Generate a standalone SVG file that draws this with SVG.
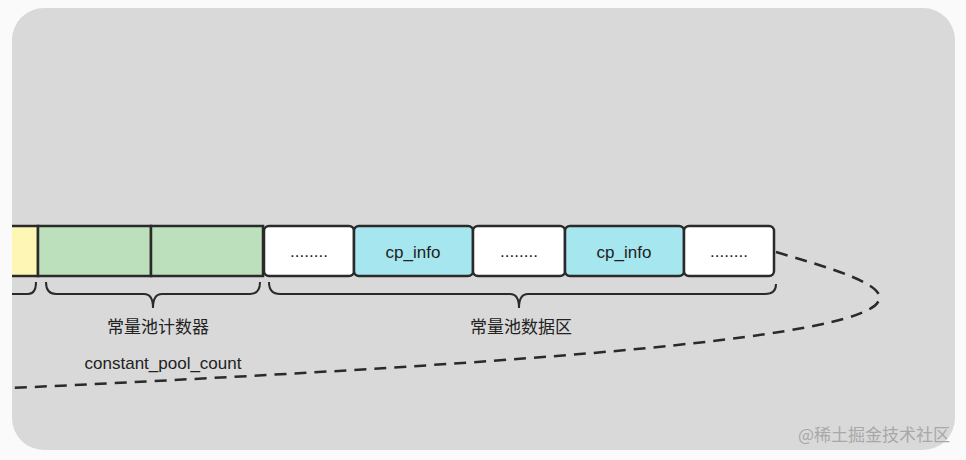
<svg xmlns="http://www.w3.org/2000/svg" width="966" height="460" viewBox="0 0 966 460">
<style>
.b{stroke:#2a2a2a;stroke-width:2.5}
.t{font-family:"Liberation Sans","Noto Sans CJK SC",sans-serif;font-size:17px;fill:#222;text-anchor:middle}
.br{fill:none;stroke:#2a2a2a;stroke-width:2}
</style>
<defs><clipPath id="c"><rect x="12" y="0" width="966" height="460"/></clipPath></defs>
<rect x="0" y="0" width="966" height="460" fill="#fafafa"/>
<rect x="12" y="8" width="943" height="442" rx="32" fill="#d9d9d9"/>
<g clip-path="url(#c)">
<g id="yellow"><rect class="b" x="4" y="226" width="34" height="50" fill="#fdf6b5"/></g>
<g id="count1"><rect class="b" x="38" y="226" width="113" height="50" fill="#bde0bc"/></g>
<g id="count2"><rect class="b" x="151" y="226" width="112" height="50" fill="#bde0bc"/></g>
<g id="d1"><rect class="b" x="264" y="226" width="90" height="50" rx="5" fill="#fff"/><text class="t" x="309" y="257">........</text></g>
<g id="cp1"><rect class="b" x="354" y="226" width="119" height="50" rx="5" fill="#a6e6ee"/><text class="t" x="413" y="258">cp_info</text></g>
<g id="d2"><rect class="b" x="473" y="226" width="92" height="50" rx="5" fill="#fff"/><text class="t" x="519" y="257">........</text></g>
<g id="cp2"><rect class="b" x="565" y="226" width="119" height="50" rx="5" fill="#a6e6ee"/><text class="t" x="624" y="258">cp_info</text></g>
<g id="d3"><rect class="b" x="684" y="226" width="90" height="50" rx="5" fill="#fff"/><text class="t" x="729" y="257">........</text></g>
<g id="connectors">
<path class="br" d="M10 294 H28 Q36 294 36 282"/>
<path class="br" d="M46 282 Q46 294 56 294 H144 Q153 294 153 308 Q153 294 162 294 H250 Q260 294 260 282"/>
<path class="br" d="M269 282 Q269 294 280 294 H510 Q519 294 519 308 Q519 294 528 294 H765 Q776 294 776 284"/>
<path d="M776 252 C830 268 890 285 878 302 C855 340 500 365 12 388" fill="none" stroke="#2a2a2a" stroke-width="2.5" stroke-dasharray="12 8"/>
</g>
</g>
<text class="t" x="158" y="333">常量池计数器</text>
<text class="t" x="163" y="369">constant_pool_count</text>
<text class="t" x="521" y="333">常量池数据区</text>
<text x="950" y="441" font-family="Noto Sans CJK SC,sans-serif" font-size="17" fill="#a8a8a8" text-anchor="end">@稀土掘金技术社区</text>
</svg>
